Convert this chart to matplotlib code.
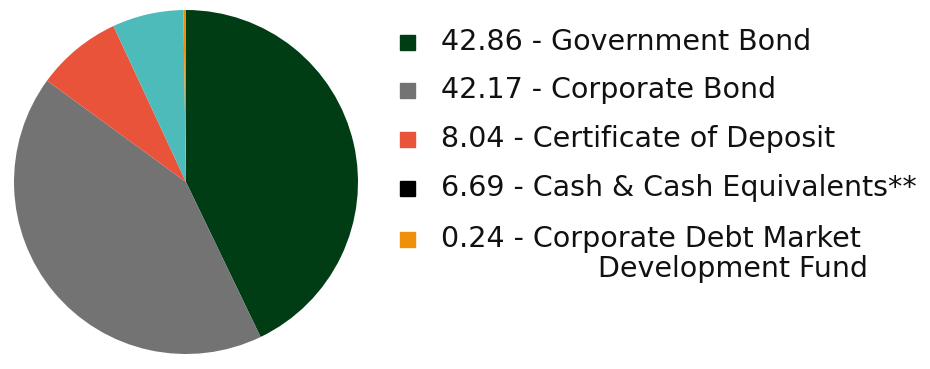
import matplotlib
matplotlib.use("Agg")
import matplotlib.pyplot as plt
from matplotlib.patches import Rectangle

values = [42.86, 42.17, 8.04, 6.69, 0.24]
labels = ["Government Bond", "Corporate Bond", "Certificate of Deposit",
          "Cash & Cash Equivalents**", "Corporate Debt Market\nDevelopment Fund"]
slice_colors = ["#003d14", "#737373", "#e8533a", "#4dbbba", "#ef8f0a"]
legend_colors = ["#003d14", "#737373", "#e8533a", "#000000", "#ef8f0a"]

W, H = 930, 369
fig = plt.figure(figsize=(W / 100, H / 100), dpi=100)

# pie axes in pixel coords
ax = fig.add_axes([14 / W, 15 / H, 344 / W, 344 / H])
ax.pie(values, colors=slice_colors, startangle=90, counterclock=False,
       radius=1.0, wedgeprops=dict(linewidth=0))
ax.set_xlim(-1, 1)
ax.set_ylim(-1, 1)
ax.set_aspect("equal")
ax.axis("off")

rows_y = [42, 90, 139, 188, 239]
for val, lab, col, y in zip(values, labels, legend_colors, rows_y):
    fig.patches.append(Rectangle((400 / W, 1 - (y + 8) / H), 15 / W, 15 / H,
                                 transform=fig.transFigure, color=col))
    lines = lab.split("\n")
    fig.text(441 / W, 1 - y / H, f"{val:.2f} - {lines[0]}", fontsize=20.5,
             va="center", ha="left", color="#111111")
    if len(lines) > 1:
        fig.text(868 / W, 1 - (y + 30) / H, lines[1], fontsize=20.5,
                 va="center", ha="right", color="#111111")

fig.savefig("out.png", dpi=100)
